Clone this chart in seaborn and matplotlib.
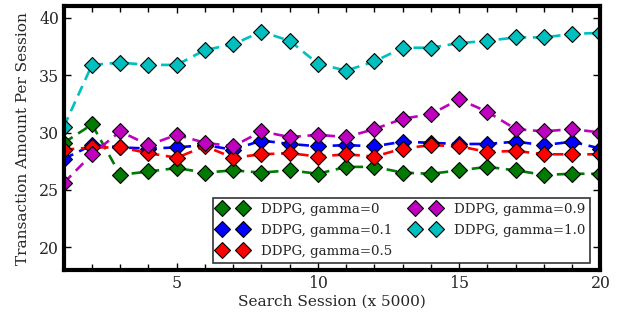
import numpy as np
import pandas as pd
import seaborn as sns
import matplotlib.pyplot as plt

# session index (x 5000)
sessions = list(range(1, 21))

# transaction amount per session, one list per gamma
g_0 = [29.1, 30.7, 26.3, 26.6, 26.9, 26.5, 26.7, 26.5, 26.7, 26.4,
       27.0, 27.0, 26.5, 26.4, 26.7, 27.0, 26.7, 26.3, 26.4, 26.4]
g_01 = [27.7, 28.9, 28.7, 28.6, 28.7, 28.9, 28.5, 29.3, 29.0, 28.8,
        28.9, 28.8, 29.2, 29.1, 29.0, 29.0, 29.2, 28.9, 29.2, 28.6]
g_05 = [28.5, 28.7, 28.7, 28.2, 27.8, 28.8, 27.8, 28.1, 28.2, 27.9,
        28.1, 27.9, 28.6, 28.9, 28.8, 28.3, 28.4, 28.1, 28.1, 28.1]
g_09 = [25.6, 28.1, 30.1, 28.9, 29.8, 29.1, 28.8, 30.1, 29.6, 29.8,
        29.6, 30.3, 31.2, 31.6, 32.9, 31.8, 30.3, 30.1, 30.3, 30.0]
g_10 = [30.5, 35.9, 36.1, 35.9, 35.9, 37.2, 37.7, 38.8, 38.0, 36.0,
        35.4, 36.2, 37.4, 37.4, 37.8, 38.0, 38.3, 38.3, 38.6, 38.7]

labels = ["DDPG, gamma=0", "DDPG, gamma=0.1", "DDPG, gamma=0.5",
          "DDPG, gamma=0.9", "DDPG, gamma=1.0"]
colors = ["#007a00", "#0000ff", "#ff0000", "#bf00bf", "#00bfbf"]

sns.set_style("ticks")
plt.rcParams['font.family'] = ['DejaVu Serif']
plt.rcParams['mathtext.fontset'] = 'dejavuserif'

fig, ax = plt.subplots(figsize=(6.19, 3.23), dpi=100)
fig.subplots_adjust(left=0.103, right=0.970, bottom=0.164, top=0.980)

for vals, lab, col in zip([g_0, g_01, g_05, g_09, g_10], labels, colors):
    df = pd.DataFrame({"session": sessions, "amount": vals})
    sns.lineplot(data=df, x="session", y="amount", ax=ax, color=col,
                 linestyle=(0, (4, 2.5)), linewidth=1.9, marker="D",
                 markersize=8, markeredgecolor="black",
                 markeredgewidth=0.8, label=lab, legend=False)

ax.set_xlim(1, 20)
ax.set_ylim(18, 41)
ax.set_xticks([5, 10, 15, 20])
ax.set_xticks(sessions, minor=True)
ax.set_yticks([20, 25, 30, 35, 40])
ax.tick_params(axis="both", which="both", direction="in", top=True,
               right=True, labelsize=11.3, width=1, color="black")
ax.tick_params(axis="both", which="major", length=5)
ax.tick_params(axis="x", which="minor", length=4)
for s in ax.spines.values():
    s.set_linewidth(3)
    s.set_color("black")

ax.set_xlabel("Search Session (x 5000)", fontsize=11.1, labelpad=2)
ax.set_ylabel("Transaction Amount Per Session", fontsize=11.1, labelpad=6)

h, l = ax.get_legend_handles_labels()
leg = ax.legend(h, l, loc="lower right", bbox_to_anchor=(0.981, 0.025),
                borderaxespad=0, ncol=2, numpoints=2,
                handlelength=2.2, markerscale=1.05, fontsize=9.6,
                frameon=True, fancybox=False, edgecolor="black",
                borderpad=0.4, labelspacing=0.6, columnspacing=1.4,
                handletextpad=1.0)
leg.get_frame().set_linewidth(1.2)
for ln in leg.get_lines():
    ln.set_linestyle("none")

fig.savefig("out.png", dpi=100)
